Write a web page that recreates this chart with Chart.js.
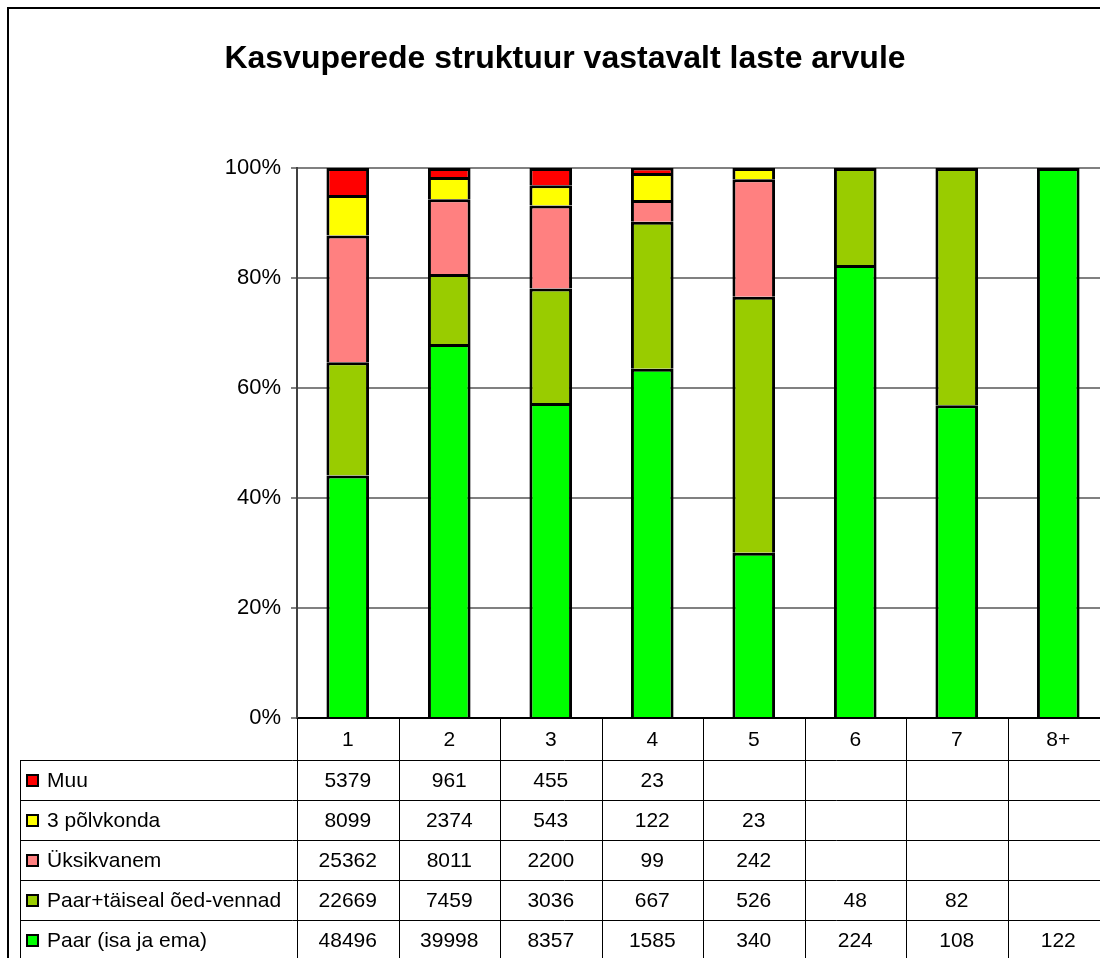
<!DOCTYPE html>
<html>
<head>
<meta charset="utf-8">
<script src="https://cdn.jsdelivr.net/npm/chart.js@4"></script>
<style>
  html, body { margin: 0; padding: 0; background: #fff; overflow: hidden; }
  #wrap { position: relative; width: 1100px; height: 958px; overflow: hidden; }
  canvas { position: absolute; left: 0; top: 0; }
</style>
</head>
<body>
<div id="wrap"><canvas id="myChart" width="1120" height="958"></canvas></div>
<script>
'use strict';
// categories = number of children
let categories = ['1', '2', '3', '4', '5', '6', '7', '8+'];
let seriesNames = ['Paar (isa ja ema)', 'Paar+täiseal õed-vennad', 'Üksikvanem', '3 põlvkonda', 'Muu'];
let seriesColors = ['#00FF00', '#99CC00', '#FF8080', '#FFFF00', '#FF0000'];
let paar = [48496, 39998, 8357, 1585, 340, 224, 108, 122];
let paarOedVennad = [22669, 7459, 3036, 667, 526, 48, 82, null];
let yksikvanem = [25362, 8011, 2200, 99, 242, null, null, null];
let polvkonda3 = [8099, 2374, 543, 122, 23, null, null, null];
let muu = [5379, 961, 455, 23, null, null, null, null];
let yTicks = [0, 20, 40, 60, 80, 100];
let chartTitle = 'Kasvuperede struktuur vastavalt laste arvule';

let seriesValues = [paar, paarOedVennad, yksikvanem, polvkonda3, muu];

// totals per category for 100% stacking
let totals = categories.map((c, i) => seriesValues.reduce((s, arr) => s + (arr[i] || 0), 0));

let datasets = seriesValues.map((arr, k) => ({
    label: seriesNames[k],
    data: arr.map((v, i) => v == null ? null : v / totals[i] * 100),
    backgroundColor: seriesColors[k],
    borderColor: '#000000',
    borderWidth: 3,
    barPercentage: 0.42,
    categoryPercentage: 1
}));

const FONT = '"Liberation Sans", Arial, sans-serif';

// title, frame and data table below the plot
let tablePlugin = {
    id: 'tablePlugin',
    afterDraw(chart) {
        let ctx = chart.ctx;
        let area = chart.chartArea;
        let xs = chart.scales.x;
        ctx.save();
        // outer frame
        ctx.strokeStyle = '#000';
        ctx.lineWidth = 2;
        ctx.strokeRect(8, 8, 1200, 1200);
        // title
        ctx.fillStyle = '#000';
        ctx.font = 'bold 32px ' + FONT;
        ctx.textAlign = 'center';
        ctx.textBaseline = 'middle';
        ctx.fillText(chartTitle, 565, 59);

        let top = area.bottom;
        let headerH = 42;
        let rowH = 40;
        let colW = (area.right - area.left) / categories.length;
        let tableLeft = 20;
        ctx.strokeStyle = '#000';
        ctx.lineWidth = 1;
        // vertical lines for columns
        for (let i = 0; i <= categories.length; i++) {
            let x = Math.round(area.left + i * colW) + 0.5;
            ctx.beginPath();
            ctx.moveTo(x, top);
            ctx.lineTo(x, 958);
            ctx.stroke();
        }
        // left edge of table
        ctx.beginPath();
        ctx.moveTo(tableLeft + 0.5, top + headerH);
        ctx.lineTo(tableLeft + 0.5, 958);
        ctx.stroke();
        // horizontal row lines
        for (let r = 0; r <= seriesNames.length; r++) {
            let y = top + headerH + r * rowH + 0.5;
            ctx.beginPath();
            ctx.moveTo(tableLeft, y);
            ctx.lineTo(area.right, y);
            ctx.stroke();
        }
        // header labels
        ctx.font = '21px ' + FONT;
        ctx.textAlign = 'center';
        ctx.textBaseline = 'middle';
        categories.forEach((c, i) => {
            ctx.fillText(c, xs.getPixelForValue(i), top + headerH / 2 + 1);
        });
        // rows: top row is last series (Muu)
        for (let r = 0; r < seriesNames.length; r++) {
            let k = seriesNames.length - 1 - r;
            let cy = top + headerH + r * rowH + rowH / 2 + 1;
            // legend key
            ctx.fillStyle = seriesColors[k];
            ctx.fillRect(27, cy - 6, 11, 11);
            ctx.strokeStyle = '#000';
            ctx.lineWidth = 2;
            ctx.strokeRect(27, cy - 6, 11, 11);
            ctx.fillStyle = '#000';
            ctx.textAlign = 'left';
            ctx.font = '21px ' + FONT;
            ctx.fillText(seriesNames[k], 47, cy);
            ctx.textAlign = 'center';
            ctx.font = '21px ' + FONT;
            seriesValues[k].forEach((v, i) => {
                if (v != null) ctx.fillText(String(v), xs.getPixelForValue(i), cy);
            });
        }
        ctx.restore();
    }
};

let ctx = document.getElementById('myChart').getContext('2d');
let myChart = new Chart(ctx, {
    type: 'bar',
    data: {
        labels: categories,
        datasets: datasets
    },
    options: {
        responsive: false,
        animation: false,
        layout: { padding: { top: 168, right: 11, left: 0, bottom: 0 } },
        plugins: {
            legend: { display: false },
            title: { display: false },
            tooltip: { enabled: false }
        },
        scales: {
            x: {
                stacked: true,
                ticks: { display: false },
                grid: { display: false, drawTicks: false },
                border: { color: '#000', width: 2 },
                afterFit(s) { s.height = 240; }
            },
            y: {
                stacked: true,
                min: 0,
                max: 100,
                afterBuildTicks(s) { s.ticks = yTicks.map(v => ({ value: v })); },
                ticks: {
                    callback: v => v + '%',
                    color: '#000',
                    font: { family: FONT, size: 22 },
                    padding: 10
                },
                grid: { color: '#808080', lineWidth: 2, tickLength: 6 },
                border: { color: '#404040', width: 2 },
                afterFit(s) { s.width = 297; }
            }
        }
    },
    plugins: [tablePlugin]
});
</script>
</body>
</html>
